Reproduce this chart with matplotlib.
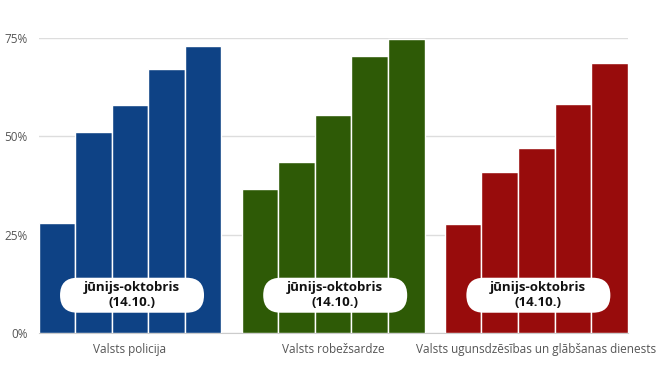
import numpy as np
import matplotlib.pyplot as plt
from matplotlib.patches import FancyBboxPatch
from matplotlib.transforms import ScaledTranslation

categorias = ['Valsts policija', 'Valsts robežsardze',
              'Valsts ugunsdzēsības un glābšanas dienests']
policija = [28, 51, 58, 67, 73]
robezsardze = [36.5, 43.5, 55.5, 70.3, 74.8]
vugd = [27.7, 40.8, 46.9, 58.1, 68.7]
valores = [policija, robezsardze, vugd]
colores = ['#0e4285', '#2e5a06', '#980c0c']
etiqueta = 'jūnijs-oktobris\n(14.10.)'
y_ticks = [0, 25, 50, 75]
y_labels = ['0%', '25%', '50%', '75%']

plt.rcParams['font.family'] = ['Open Sans', 'DejaVu Sans']

fig = plt.figure(figsize=(6.65, 3.75), dpi=100)
ax = fig.add_axes([0.058, 0.112, 0.886, 0.787])

ancho = 0.18
for g, (serie, color) in enumerate(zip(valores, colores)):
    n = len(serie)
    xs = g + (np.arange(n) - (n - 1) / 2) * ancho
    ax.bar(xs, serie, width=ancho, color=color, edgecolor='white',
           linewidth=1, zorder=3)
    # caja blanca redondeada con el texto
    trans = fig.dpi_scale_trans + ScaledTranslation(g + 0.01, 9.6, ax.transData)
    caja = FancyBboxPatch((-0.72, -0.175), 1.44, 0.35,
                          boxstyle='round,pad=0,rounding_size=0.175',
                          facecolor='white', edgecolor='none',
                          transform=trans, zorder=4, clip_on=False)
    ax.add_patch(caja)
    ax.text(g + 0.01, 9.6, etiqueta, ha='center', va='center', fontsize=9.5,
            fontweight='bold', color='#111111', linespacing=1.15, zorder=5)

ax.set_xlim(-0.45, 2.45)
ax.set_ylim(0, 75)
ax.set_yticks(y_ticks)
ax.set_yticklabels(y_labels)
ax.set_xticks(range(len(categorias)))
ax.set_xticklabels(categorias)
ax.tick_params(axis='both', length=0, labelsize=8.5, colors='#555555')
ax.tick_params(axis='x', pad=7)
ax.tick_params(axis='y', pad=8)
ax.grid(axis='y', color='#dddddd', linewidth=1, zorder=0)
for s in ['top', 'right', 'left']:
    ax.spines[s].set_visible(False)
ax.spines['bottom'].set_color('#cccccc')
ax.spines['bottom'].set_zorder(2)

fig.savefig('out.png', dpi=100)
